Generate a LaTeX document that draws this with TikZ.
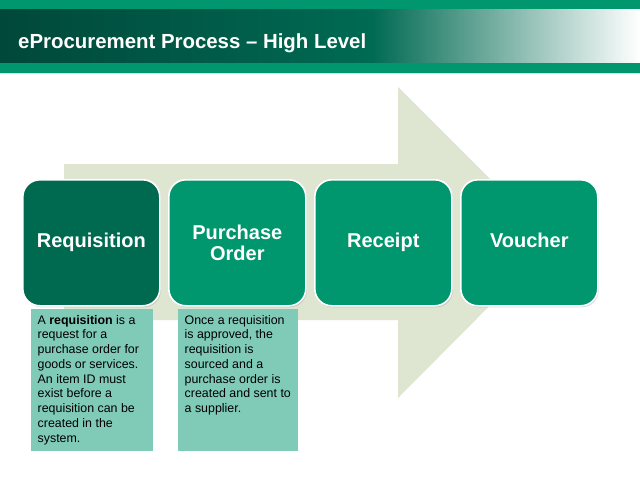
\documentclass[tikz,border=0pt]{standalone}
\usepackage{fontspec}
\setmainfont{Liberation Sans}
\usetikzlibrary{shadows}
\definecolor{bandgreen}{RGB}{0,150,110}
\definecolor{darkleft}{RGB}{0,72,58}
\definecolor{darkmid}{RGB}{0,106,82}
\definecolor{boxdark}{RGB}{0,106,80}
\definecolor{boxgreen}{RGB}{0,150,110}
\definecolor{arrowfill}{RGB}{222,230,210}
\definecolor{descfill}{RGB}{128,203,184}
\tikzset{
  stepbox/.style={draw=white, line width=1.6pt, rounded corners=17pt, minimum width=137pt, minimum height=126pt, anchor=north west, inner sep=0pt, align=center, text=white, font=\fontsize{20}{21.5}\selectfont\bfseries, drop shadow={opacity=0.3, shadow xshift=1pt, shadow yshift=-1.5pt}},
  descbox/.style={fill=descfill, anchor=north west, inner xsep=6.5pt, inner ysep=0pt, font=\fontsize{12.4}{14.75}\selectfont}
}
\begin{document}
\begin{tikzpicture}[x=1pt,y=-1pt]
\useasboundingbox (0,0) rectangle (640,480);
\fill[white] (0,0) rectangle (640,480);
% header
\fill[bandgreen] (0,0) rectangle (640,9.5);
\shade[left color=darkleft, right color=darkmid] (0,9.5) rectangle (372,63.3);
\shade[left color=darkmid, right color=white] (371.5,9.5) rectangle (640,63.3);
\fill[bandgreen] (0,63.3) rectangle (640,72.7);
\fill[black!12] (0,72.7) rectangle (640,73.7);
\node[anchor=base west, text=white, inner sep=0pt, font=\fontsize{20.4}{24}\selectfont\bfseries] (title) at (18,48) {eProcurement Process – High Level};
% big arrow
\fill[arrowfill] (64,164) -- (398,164) -- (398,87) -- (553,242) -- (398,398) -- (398,320) -- (64,320) -- cycle;
% step boxes
\node[stepbox, fill=boxdark] (req) at (22,179) {Requisition};
\node[stepbox, fill=boxgreen] (po) at (168,179) {Purchase\\Order};
\node[stepbox, fill=boxgreen] (rec) at (314,179) {Receipt};
\node[stepbox, fill=boxgreen] (vou) at (460,179) {Voucher\vphantom{p}};
% descriptions
\node[descbox] (d1) at (31,309) {\parbox[t][142pt][t]{109pt}{\raggedright\vspace*{6pt}%
A \textbf{requisition} is a\\request for a\\purchase order for\\goods or services.\\An item ID must\\exist before a\\requisition can be\\created in the\\system.}};
\node[descbox] (d2) at (178,309) {\parbox[t][142pt][t]{107pt}{\raggedright\vspace*{6pt}%
Once a requisition\\is approved, the\\requisition is\\sourced and a\\purchase order is\\created and sent to\\a supplier.}};
\end{tikzpicture}
\end{document}
